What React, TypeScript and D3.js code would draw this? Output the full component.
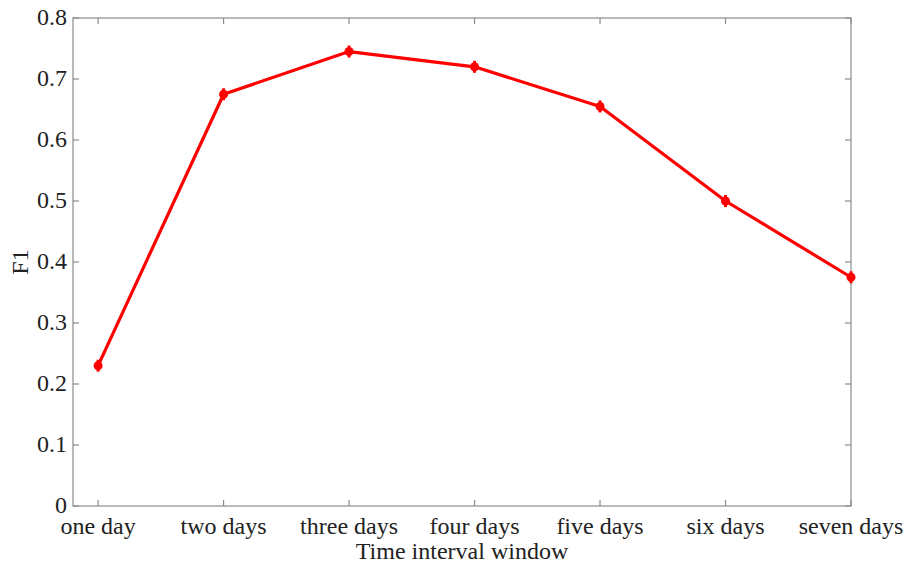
import { useEffect, useRef } from 'react';
import * as d3 from 'd3';

const categories = ['one day', 'two days', 'three days', 'four days', 'five days', 'six days', 'seven days'];
const f1Values = [0.23, 0.675, 0.745, 0.72, 0.655, 0.5, 0.375];
const yTicks = [0, 0.1, 0.2, 0.3, 0.4, 0.5, 0.6, 0.7, 0.8];

const App = () => {
  const svgRef = useRef<SVGSVGElement>(null);

  useEffect(() => {
    document.body.style.margin = '0';
    if (!svgRef.current) return;
    const svg = d3.select(svgRef.current);
    svg.selectAll('*').remove();

    const left = 73, right = 851, top = 18, bottom = 506;
    const font = 'Liberation Serif, Times New Roman, serif';
    const fontSize = 24;
    const axisColor = '#8c8c8c';

    // x: index scale, axis from 0.8 to 7 (1-based)
    const x = d3.scaleLinear().domain([0.8, 7]).range([left, right]);
    const y = d3.scaleLinear().domain([0, 0.8]).range([bottom, top]);

    const g = svg.append('g');

    // box
    g.append('rect')
      .attr('x', left).attr('y', top)
      .attr('width', right - left).attr('height', bottom - top)
      .attr('fill', 'none').attr('stroke', axisColor).attr('stroke-width', 1.2);

    const tickLen = 6;
    // x ticks (bottom and top, inward)
    categories.forEach((c, i) => {
      const xp = x(i + 1);
      g.append('line').attr('x1', xp).attr('x2', xp).attr('y1', bottom).attr('y2', bottom - tickLen)
        .attr('stroke', axisColor).attr('stroke-width', 1.2);
      g.append('line').attr('x1', xp).attr('x2', xp).attr('y1', top).attr('y2', top + tickLen)
        .attr('stroke', axisColor).attr('stroke-width', 1.2);
      g.append('text').attr('x', xp).attr('y', 534)
        .attr('text-anchor', 'middle').attr('font-family', font).attr('font-size', fontSize)
        .attr('fill', '#222').text(c);
    });

    // y ticks (left and right)
    yTicks.forEach(t => {
      const yp = y(t);
      g.append('line').attr('x1', left).attr('x2', left + tickLen).attr('y1', yp).attr('y2', yp)
        .attr('stroke', axisColor).attr('stroke-width', 1.2);
      g.append('line').attr('x1', right).attr('x2', right - tickLen).attr('y1', yp).attr('y2', yp)
        .attr('stroke', axisColor).attr('stroke-width', 1.2);
      g.append('text').attr('x', 67).attr('y', yp + 7)
        .attr('text-anchor', 'end').attr('font-family', font).attr('font-size', fontSize)
        .attr('fill', '#222').text(t === 0 ? '0' : d3.format('.1f')(t));
    });

    // axis labels
    g.append('text').attr('x', 462).attr('y', 559)
      .attr('text-anchor', 'middle').attr('font-family', font).attr('font-size', fontSize)
      .attr('fill', '#222').text('Time interval window');
    g.append('text').attr('transform', `translate(28,${y(0.4)}) rotate(-90)`)
      .attr('text-anchor', 'middle').attr('font-family', font).attr('font-size', fontSize)
      .attr('fill', '#222').text('F1');

    // line
    const line = d3.line<number>()
      .x((_, i) => x(i + 1))
      .y(d => y(d));
    g.append('path').datum(f1Values)
      .attr('d', line)
      .attr('fill', 'none').attr('stroke', '#ff0000').attr('stroke-width', 3.2)
      .attr('stroke-linejoin', 'round');

    // markers with tiny error bars
    g.selectAll('.pt').data(f1Values).enter()
      .append('circle')
      .attr('cx', (_, i) => x(i + 1))
      .attr('cy', d => y(d))
      .attr('r', 4.5)
      .attr('fill', '#ff0000');
    g.selectAll('.eb').data(f1Values).enter()
      .append('line')
      .attr('x1', (_, i) => x(i + 1)).attr('x2', (_, i) => x(i + 1))
      .attr('y1', d => y(d) - 6).attr('y2', d => y(d) + 6)
      .attr('stroke', '#ff0000').attr('stroke-width', 3);
  }, []);

  return <svg ref={svgRef} width={907} height={564} style={{ display: 'block' }} />;
};

export default App;
